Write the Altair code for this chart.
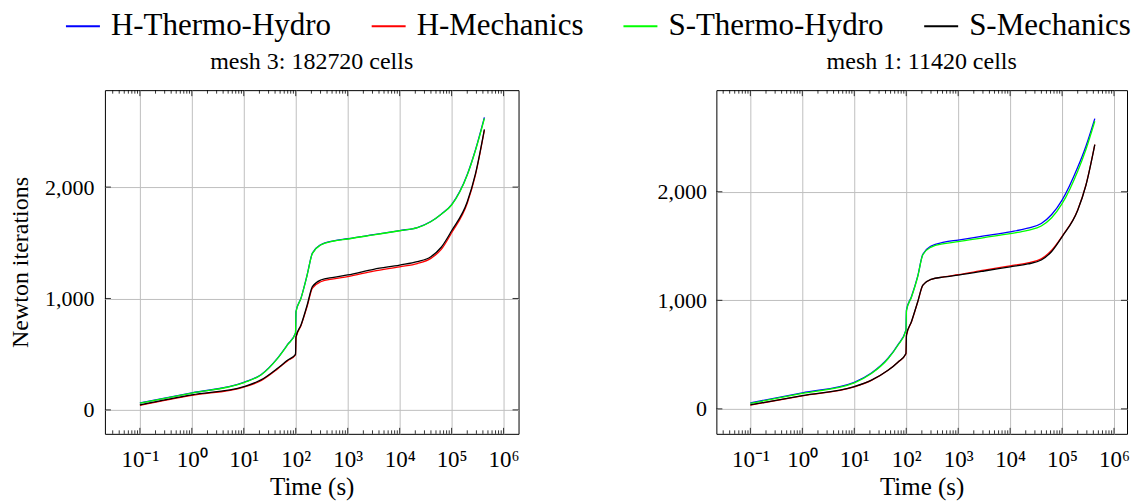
import altair as alt
import pandas as pd

FONT = "Liberation Serif"

series_names = ["H-Thermo-Hydro", "H-Mechanics", "S-Thermo-Hydro", "S-Mechanics"]
series_colors = ["#0000ff", "#ff0000", "#00ff00", "#000000"]

# time points (s)
time_s = [0.1, 1, 10, 21.4, 44.7, 69.2, 98.9, 101.2, 126, 166, 209, 302, 537,
          1000, 3162, 10000, 21900, 39800, 63100, 100000, 200000, 288000, 427000]

# mesh 3: 182720 cells
m3_h_th = [62, 152, 247, 316, 465, 585, 690, 884, 1003, 1213, 1407, 1482, 1518,
           1536, 1573, 1610, 1637, 1691, 1757, 1842, 2112, 2335, 2625]
m3_h_me = [40, 130, 205, 262, 368, 440, 494, 650, 755, 930, 1092, 1150, 1176,
           1196, 1245, 1284, 1313, 1360, 1440, 1590, 1855, 2110, 2510]
m3_s_th = [60, 150, 245, 314, 463, 583, 688, 882, 1001, 1211, 1405, 1480, 1516,
           1534, 1571, 1608, 1635, 1689, 1755, 1839, 2108, 2330, 2616]
m3_s_me = [45, 135, 209, 269, 374, 445, 499, 657, 762, 942, 1106, 1166, 1190,
           1211, 1262, 1300, 1330, 1375, 1460, 1608, 1868, 2120, 2517]

# mesh 1: 11420 cells
m1_h_th = [55, 148, 245, 330, 466, 590, 727, 911, 1033, 1220, 1425, 1500, 1535,
           1555, 1593, 1631, 1665, 1708, 1790, 1923, 2225, 2420, 2674]
m1_h_me = [35, 120, 203, 263, 355, 430, 505, 678, 800, 982, 1138, 1192, 1216,
           1236, 1278, 1318, 1345, 1382, 1462, 1590, 1832, 2062, 2435]
m1_s_th = [50, 142, 240, 326, 462, 586, 722, 905, 1028, 1215, 1420, 1490, 1522,
           1540, 1578, 1615, 1645, 1685, 1760, 1890, 2190, 2390, 2650]
m1_s_me = [37, 122, 205, 265, 355, 430, 510, 681, 803, 985, 1140, 1193, 1215,
           1233, 1270, 1309, 1335, 1371, 1450, 1585, 1830, 2060, 2435]

x_major = [0.1, 1, 10, 100, 1e3, 1e4, 1e5, 1e6]
x_minor = [m * 10.0 ** k for k in range(-2, 6) for m in range(2, 10)]
y_major = [0, 1000, 2000]
x_labels = ["10⁻¹", "10⁰", "10¹", "10²", "10³", "10⁴", "10⁵", "10⁶"]


def long_df(cols):
    rows = []
    for name, vals in zip(series_names, cols):
        for t, v in zip(time_s, vals):
            rows.append({"time": t, "iters": v, "series": name})
    return pd.DataFrame(rows)


label_expr = "[" + ",".join("'%s'" % s for s in x_labels) + "][round(log(datum.value)/LN10)+1]"


def panel(df, title, xdom, ydom, W, H, ytitle):
    xs = alt.Scale(type="log", domain=xdom, nice=False)
    ys = alt.Scale(domain=ydom, nice=False, zero=False)
    xaxis = alt.Axis(values=x_major, labelExpr=label_expr, title="Time (s)",
                     grid=True, gridColor="#bfbfbf", gridWidth=1, ticks=False,
                     domain=False, labelFontSize=23, labelPadding=15,
                     titleFontSize=25, titlePadding=3, labelFont=FONT,
                     titleFont=FONT, titleFontWeight="normal", labelColor="black",
                     titleColor="black", labelFlush=False)
    yaxis_kw = dict(values=y_major, format=",d", grid=True, gridColor="#bfbfbf",
                    gridWidth=1, ticks=False, domain=False, labelFontSize=22,
                    labelPadding=11 if ytitle else 10, labelFont=FONT,
                    labelColor="black")
    if ytitle:
        yaxis = alt.Axis(title="Newton iterations", titleFontSize=24,
                         titlePadding=12, titleFont=FONT,
                         titleFontWeight="normal", titleColor="black", **yaxis_kw)
    else:
        yaxis = alt.Axis(title=None, **yaxis_kw)

    X = alt.X("time:Q", scale=xs, axis=xaxis)
    Y = alt.Y("iters:Q", scale=ys, axis=yaxis)

    lines = alt.Chart(df).mark_line(strokeWidth=1.3, interpolate="monotone", clip=True).encode(
        x=X, y=Y,
        color=alt.Color("series:N", scale=alt.Scale(domain=series_names, range=series_colors),
                        legend=alt.Legend(title=None, labelFont=FONT, labelFontSize=31)),
    )

    lo, hi = xdom
    maj = pd.DataFrame({"time": [v for v in x_major if lo <= v <= hi]})
    mnr = pd.DataFrame({"time": [v for v in x_minor if lo <= v <= hi]})
    ydf = pd.DataFrame({"iters": y_major})

    def xr(d, y1, y2):
        return alt.Chart(d).mark_rule(color="black", strokeWidth=0.8).encode(
            x=X, y=alt.value(y1), y2=alt.value(y2))

    def yr(x1, x2):
        return alt.Chart(ydf).mark_rule(color="black", strokeWidth=0.8).encode(
            y=Y, x=alt.value(x1), x2=alt.value(x2))

    layers = [lines,
              xr(maj, 0, 6), xr(maj, H, H - 6),
              xr(mnr, 0, 3.5), xr(mnr, H, H - 3.5),
              yr(0, 6), yr(W - 6, W)]
    return alt.layer(*layers).properties(
        width=W, height=H,
        title=alt.TitleParams(title, fontSize=24, font=FONT, fontWeight="normal",
                              color="black", offset=16))


left = panel(long_df([m3_h_th, m3_h_me, m3_s_th, m3_s_me]), "mesh 3: 182720 cells",
             [10 ** -1.673, 10 ** 6.288], [-215, 2870], 414, 344, True)
right = panel(long_df([m1_h_th, m1_h_me, m1_s_th, m1_s_me]), "mesh 1: 11420 cells",
              [10 ** -1.654, 10 ** 6.25], [-230, 2936], 411, 344, False)

chart = alt.hconcat(left, right, spacing=136).properties(padding=0).configure(
    font=FONT
).configure_view(stroke="black", strokeWidth=1).configure_legend(
    orient="none", legendX=-40, legendY=-82, direction="horizontal",
    labelFontSize=31, labelFont=FONT, labelColor="black", labelLimit=500,
    symbolType="stroke", symbolStrokeWidth=2, symbolSize=1156,
    columnPadding=36, labelOffset=10,
)

chart.save("out.html", embed_options={"renderer": "svg", "actions": False})
